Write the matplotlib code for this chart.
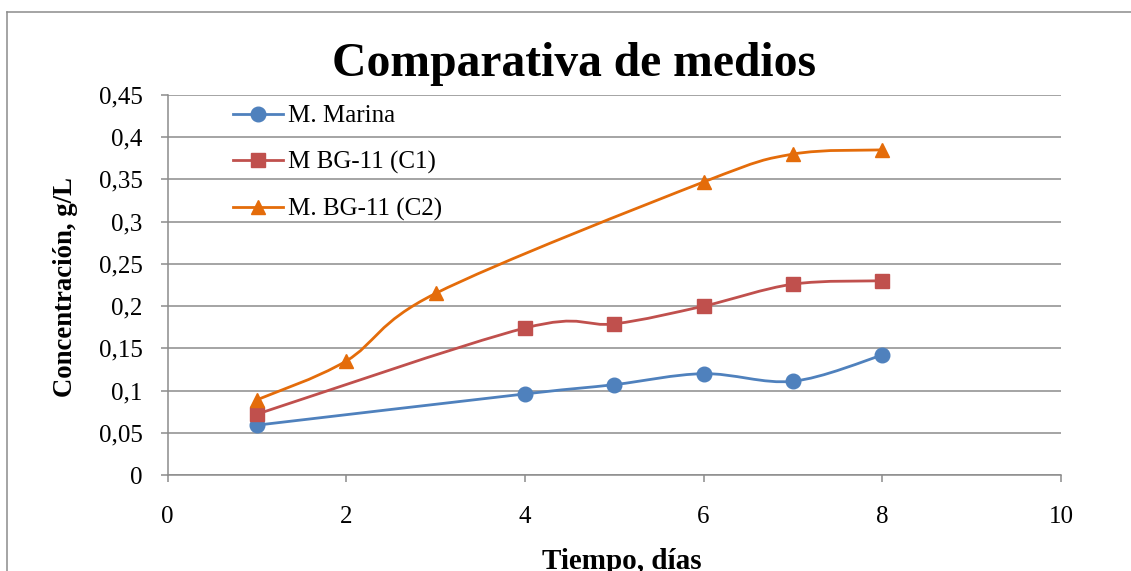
import matplotlib
matplotlib.use("Agg")
import matplotlib.pyplot as plt
from matplotlib.path import Path
from matplotlib.patches import PathPatch
from matplotlib.lines import Line2D

# datos
dias_marina = [1, 4, 5, 6, 7, 8]
marina = [0.059, 0.096, 0.107, 0.120, 0.111, 0.142]

dias_c1 = [1, 4, 5, 6, 7, 8]
bg11_c1 = [0.072, 0.174, 0.179, 0.200, 0.226, 0.230]

dias_c2 = [1, 2, 3, 6, 7, 8]
bg11_c2 = [0.089, 0.135, 0.215, 0.347, 0.380, 0.385]

series_labels = ["M. Marina", "M BG-11 (C1)", "M. BG-11 (C2)"]
xticks = [0, 2, 4, 6, 8, 10]
yticks = [0, 0.05, 0.1, 0.15, 0.2, 0.25, 0.3, 0.35, 0.4, 0.45]
ytick_labels = ["0", "0,05", "0,1", "0,15", "0,2", "0,25", "0,3", "0,35", "0,4", "0,45"]

colors = ["#4F81BD", "#C0504D", "#E46C0A"]
markers = ["o", "s", "^"]
grid_color = "#8C8C8C"

plt.rcParams["font.family"] = ["Liberation Serif", "DejaVu Serif"]


def smooth_path(xs, ys):
    """Bezier path through the points, like Excel's smoothed line"""
    pts = list(zip(xs, ys))
    verts = [pts[0]]
    codes = [Path.MOVETO]
    n = len(pts)
    for i in range(n - 1):
        p0 = pts[i - 1] if i > 0 else pts[i]
        p1 = pts[i]
        p2 = pts[i + 1]
        p3 = pts[i + 2] if i + 2 < n else pts[i + 1]
        c1 = (p1[0] + (p2[0] - p0[0]) / 6, p1[1] + (p2[1] - p0[1]) / 6)
        c2 = (p2[0] - (p3[0] - p1[0]) / 6, p2[1] - (p3[1] - p1[1]) / 6)
        verts += [c1, c2, p2]
        codes += [Path.CURVE4] * 3
    return Path(verts, codes)


W, H = 1131, 571
fig = plt.figure(figsize=(W / 100, H / 100), dpi=100)
ax = fig.add_axes([167.5 / W, 96 / H, (1061 - 167.5) / W, 380 / H])

data = [(dias_marina, marina), (dias_c1, bg11_c1), (dias_c2, bg11_c2)]
handles = []
for (xs, ys), col, mk, lab in zip(data, colors, markers, series_labels):
    patch = PathPatch(smooth_path(xs, ys), facecolor="none", edgecolor=col,
                      lw=2.0, transform=ax.transData, zorder=3)
    ax.add_patch(patch)
    ax.plot(xs, ys, linestyle="none", marker=mk, markersize=10.5,
            color=col, markeredgecolor=col, zorder=4)
    handles.append(Line2D([], [], color=col, lw=2.0, marker=mk,
                          markersize=10.5, label=lab))

ax.set_xlim(0, 10)
ax.set_ylim(0, 0.45)
ax.set_xticks(xticks)
ax.set_xticklabels([str(t) for t in xticks])
ax.set_yticks(yticks)
ax.set_yticklabels(ytick_labels)

ax.grid(axis="y", color=grid_color, lw=1.1)
ax.set_axisbelow(True)
for side in ["top", "right"]:
    ax.spines[side].set_visible(False)
for side in ["left", "bottom"]:
    ax.spines[side].set_color(grid_color)
    ax.spines[side].set_linewidth(1.1)
ax.tick_params(axis="x", direction="out", length=5, width=1.1, color=grid_color,
               labelsize=18, pad=17)
ax.tick_params(axis="y", direction="out", length=5, width=1.1, color=grid_color,
               labelsize=18, pad=13)

leg = ax.legend(handles=handles, loc="upper left", frameon=False,
                bbox_to_anchor=(233 / W, 1 - 105 / H), bbox_transform=fig.transFigure,
                fontsize=18, handlelength=2.0, handletextpad=0.2,
                labelspacing=0.95, borderpad=0, borderaxespad=0)

fig.text(574 / W, 1 - 76 / H, "Comparativa de medios", ha="center", va="baseline",
         fontsize=34.3, fontweight="bold")
fig.text(65 / W, 1 - 287 / H, "Concentración, g/L", rotation=90, ha="center",
         va="center", fontsize=19.3, fontweight="bold")
fig.text(622 / W, 1 - 569 / H, "Tiempo, días", ha="center", va="baseline",
         fontsize=21, fontweight="bold")

# marco del grafico (recortado por la derecha y abajo)
fig.add_artist(Line2D([7 / W, 7 / W], [0, 1 - 12 / H], color=grid_color, lw=1.1,
                      transform=fig.transFigure))
fig.add_artist(Line2D([7 / W, 1], [1 - 12 / H, 1 - 12 / H], color=grid_color, lw=1.1,
                      transform=fig.transFigure))

fig.savefig("out.png", dpi=100)
